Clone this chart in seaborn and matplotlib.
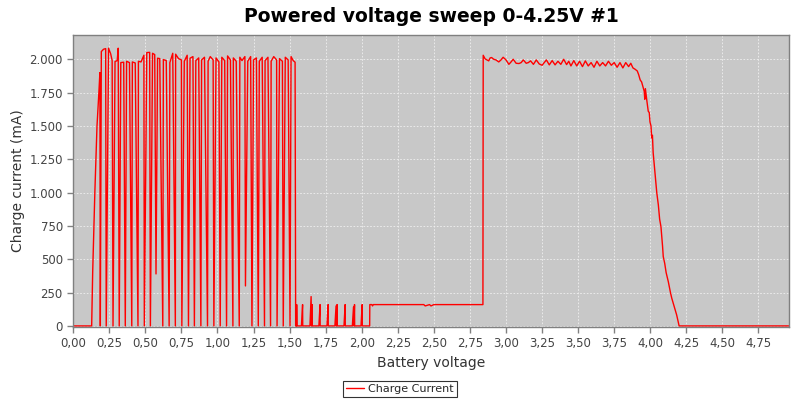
import numpy as np
import pandas as pd
import matplotlib
matplotlib.use("Agg")
import matplotlib.pyplot as plt
from matplotlib.ticker import FuncFormatter, MultipleLocator
import seaborn as sns

sns.set_style("white")
plt.rcParams['font.family'] = ['DejaVu Sans']

# zero current before the cell starts charging
start_v = [0.0, 0.128]
start_i = [0, 0]

# first rise
rise_v = [0.135, 0.150, 0.165, 0.178, 0.185, 0.188]
rise_i = [400, 1000, 1500, 1750, 1900, 0]

# upper level of the unstable part (0.19 - 1.54 V)
top_v = [0.195, 0.21, 0.225, 0.245, 0.26, 0.27, 0.29, 0.305, 0.312, 0.33, 0.35, 0.37,
         0.39, 0.41, 0.43, 0.452, 0.47, 0.49, 0.51, 0.53, 0.55, 0.565, 0.585, 0.60,
         0.625, 0.645, 0.67, 0.69, 0.71, 0.73, 0.75, 0.77, 0.79, 0.81, 0.83, 0.85,
         0.87, 0.89, 0.91, 0.935, 0.95, 0.97, 0.99, 1.01, 1.03, 1.05, 1.07, 1.09,
         1.11, 1.13, 1.155, 1.17, 1.19, 1.21, 1.23, 1.25, 1.27, 1.29, 1.31, 1.33,
         1.35, 1.372, 1.39, 1.41, 1.43, 1.45, 1.47, 1.49, 1.51, 1.525, 1.538]
top_i = [2058, 2075, 2080, 2083, 2040, 1990, 1983, 1990, 2083, 1975, 1978, 1985,
         1975, 1980, 1972, 1985, 1980, 2030, 2050, 2052, 2045, 2035, 2008, 2005,
         1998, 1990, 1975, 2045, 2038, 2005, 1995, 1985, 2030, 2008, 2020, 1990,
         2010, 1995, 2015, 1985, 2020, 1995, 2010, 1980, 2015, 1990, 2025, 1995,
         2010, 1985, 2015, 1990, 2020, 1985, 2020, 1995, 2010, 1985, 2015, 1990,
         2015, 1985, 2020, 1995, 2005, 1985, 2015, 1995, 2020, 1990, 1978]

# dropouts in the unstable part
dip_v = [0.229, 0.276, 0.319, 0.361, 0.406, 0.449, 0.493, 0.535, 0.574, 0.621,
         0.665, 0.708, 0.753, 0.799, 0.840, 0.885, 0.931, 0.975, 1.019, 1.063,
         1.107, 1.151, 1.194, 1.239, 1.283, 1.326, 1.368, 1.413, 1.456, 1.503, 1.542]
dip_i = [0, 0, 0, 0, 0, 0, 0, 0, 390, 0,
         0, 0, 0, 0, 0, 0, 0, 0, 0, 0,
         0, 0, 300, 0, 0, 0, 0, 0, 0, 0, 0]

# small pulses 1.55 - 2.05 V
low_v = [1.548, 1.549, 1.551, 1.582, 1.590, 1.591, 1.641, 1.649, 1.652, 1.656, 1.657,
         1.703, 1.711, 1.712, 1.759, 1.767, 1.768, 1.814, 1.822, 1.825, 1.829, 1.830,
         1.877, 1.885, 1.886, 1.935, 1.943, 1.946, 1.950, 1.951, 1.995, 2.003, 2.004, 2.055]
low_i = [0, 160, 0, 0, 160, 0, 0, 220, 0, 160, 0,
         0, 160, 0, 0, 160, 0, 0, 150, 0, 160, 0,
         0, 160, 0, 0, 142, 0, 160, 0, 0, 160, 0, 0]

# trickle level
flat_v = [2.056, 2.07, 2.075, 2.08, 2.09, 2.43, 2.44, 2.47, 2.48, 2.50, 2.51, 2.84]
flat_i = [160, 160, 150, 160, 160, 160, 150, 160, 150, 160, 160, 160]

# stable charging then taper
cc_v = [2.842, 2.855, 2.868, 2.88, 2.89, 2.90, 2.915, 2.93, 2.95, 2.965, 2.98, 2.99,
        3.00, 3.02, 3.035, 3.05, 3.07, 3.09, 3.105, 3.12, 3.14, 3.155, 3.17, 3.19,
        3.21, 3.23, 3.25, 3.265, 3.28, 3.30, 3.32, 3.34, 3.36, 3.38, 3.40, 3.42,
        3.435, 3.45, 3.47, 3.49, 3.51, 3.53, 3.55, 3.57, 3.59, 3.61, 3.63, 3.65,
        3.67, 3.69, 3.71, 3.73, 3.75, 3.77, 3.79, 3.81, 3.83, 3.85, 3.865, 3.88,
        3.895, 3.91, 3.92, 3.93, 3.94, 3.95, 3.958, 3.962, 3.966, 3.975, 3.986, 3.993,
        3.998, 4.005, 4.01, 4.015, 4.02, 4.033, 4.045, 4.056, 4.065, 4.074, 4.085, 4.09,
        4.10, 4.11, 4.125, 4.14, 4.149, 4.165, 4.183, 4.20, 4.96]
cc_i = [2030, 2003, 1995, 1988, 2010, 2013, 2000, 1995, 1980, 1995, 2015, 2005,
        1995, 1962, 1980, 2000, 1970, 1968, 1975, 1995, 1970, 1975, 1988, 1962,
        1995, 1965, 1955, 1975, 1995, 1958, 1990, 1958, 1985, 1962, 2000, 1960,
        1985, 1950, 1990, 1950, 1985, 1945, 1988, 1950, 1975, 1940, 1985, 1950,
        1975, 1950, 1985, 1955, 1975, 1940, 1975, 1935, 1975, 1945, 1970, 1935,
        1925, 1912, 1883, 1845, 1830, 1790, 1760, 1700, 1780, 1700, 1610, 1600,
        1530, 1500, 1410, 1430, 1300, 1145, 1000, 907, 800, 745, 600, 520,
        470, 400, 332, 250, 208, 150, 82, 0, 0]

# merge upper level with dropouts in voltage order
mid_v = np.array(top_v + dip_v)
mid_i = np.array(top_i + dip_i)
order = np.argsort(mid_v, kind="stable")

volt = np.concatenate([start_v, rise_v, mid_v[order], low_v, flat_v, cc_v])
curr = np.concatenate([start_i, rise_i, mid_i[order], low_i, flat_i, cc_i])
df = pd.DataFrame({"Battery voltage": volt, "Charge Current": curr})

fig = plt.figure(figsize=(8, 4), dpi=100)
ax = fig.add_axes([0.0915, 0.1825, 0.895, 0.73])
ax.set_facecolor("#C8C8C8")

sns.lineplot(data=df, x="Battery voltage", y="Charge Current", sort=False,
             estimator=None, color="#FF0000", lw=1.0, ax=ax, label="Charge Current")

ax.set_xlim(0, 4.963)
ax.set_ylim(-8, 2182)
ax.xaxis.set_major_locator(MultipleLocator(0.25))
ax.yaxis.set_major_locator(MultipleLocator(250))
ax.xaxis.set_major_formatter(FuncFormatter(lambda v, p: f"{v:.2f}".replace(".", ",")))
ax.yaxis.set_major_formatter(FuncFormatter(lambda v, p: f"{int(round(v)):,}".replace(",", ".")))
ax.grid(True, color="#F0F0F0", lw=0.6, ls=(0, (2, 2)))
for s in ax.spines.values():
    s.set_color("#808080")
    s.set_linewidth(1)
ax.tick_params(axis="both", length=4, width=1, color="#808080", labelsize=8.5,
               labelcolor="#444444", direction="out", bottom=True, left=True)

ax.set_xlabel("Battery voltage", fontsize=10, color="#333333", labelpad=4)
ax.set_ylabel("Charge current (mA)", fontsize=10, color="#333333", labelpad=3)
ax.set_title("Powered voltage sweep 0-4.25V #1", fontsize=13.5, fontweight="bold",
             color="black", pad=9)

ax.get_legend().remove()
leg = fig.legend(loc="lower center", bbox_to_anchor=(0.5, 0.0), fontsize=8,
                 frameon=True, fancybox=False, edgecolor="#000000", handlelength=1.6,
                 handletextpad=0.4, borderpad=0.3, borderaxespad=0.25)
leg.get_frame().set_linewidth(0.8)

plt.savefig("out.png", dpi=100)
